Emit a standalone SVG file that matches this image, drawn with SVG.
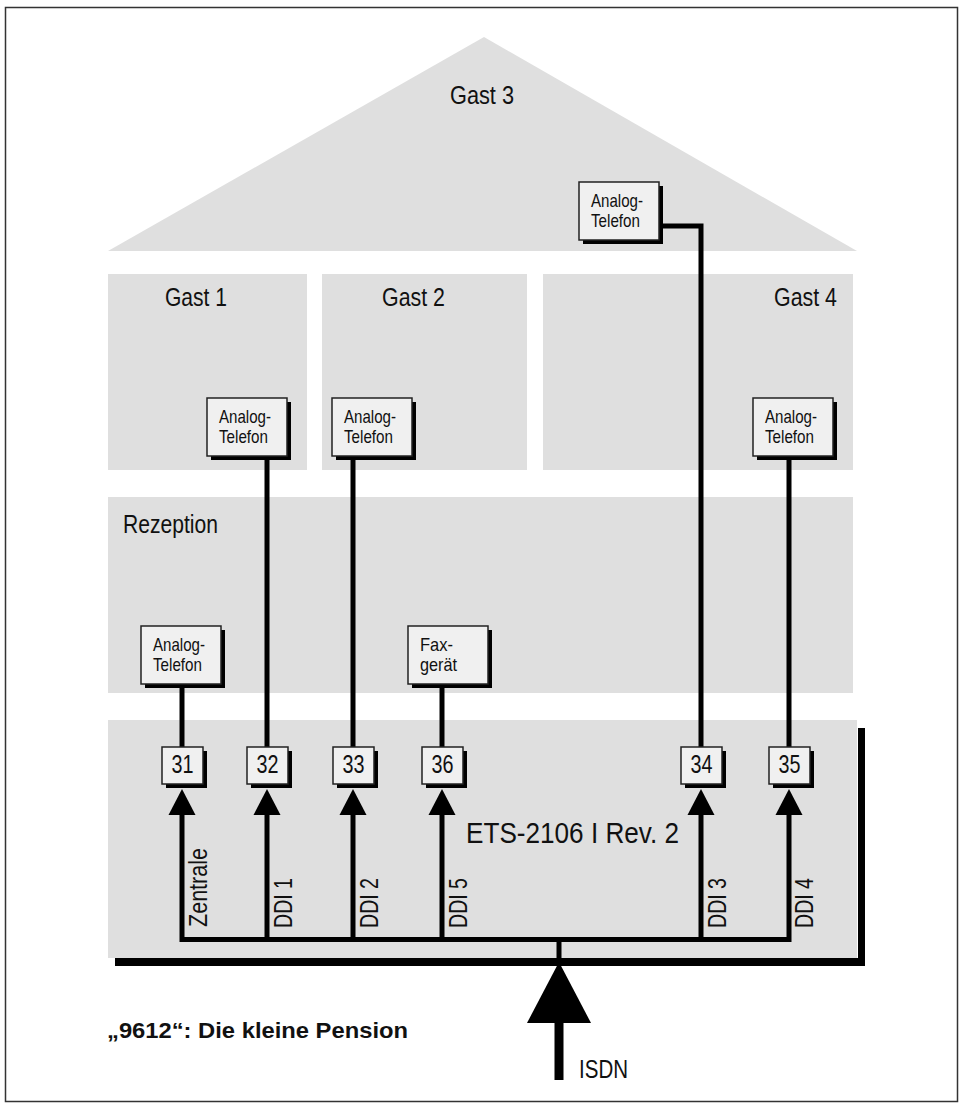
<svg xmlns="http://www.w3.org/2000/svg" width="959" height="1103" viewBox="0 0 959 1103">
<style>
.area{fill:#dfdfdf}
.t{font-family:"Liberation Sans",Arial,sans-serif;fill:#111}
.lbl{font-size:25px}
.dev{font-size:19px}
.sh{fill:#000}
.box{fill:#f0f0f0;stroke:#222;stroke-width:1.5}
.wire{fill:none;stroke:#000;stroke-width:5}
</style>
<defs>
<g id="phoneBox">
<rect class="sh" x="4" y="4" width="80" height="58"/>
<rect class="box" x="0" y="0" width="80" height="58"/>
</g>
<g id="portBox">
<rect class="sh" x="4" y="4" width="41" height="37"/>
<rect class="box" x="0" y="0" width="41" height="37"/>
</g>
</defs>
<rect x="0" y="0" width="959" height="1103" fill="#fff"/>
<rect x="5.5" y="7.5" width="952" height="1094" fill="none" stroke="#333" stroke-width="1.5"/>

<g id="roof">
<polygon class="area" points="108,251 484,37 857,251"/>
<text class="t lbl" x="450" y="104" textLength="64" lengthAdjust="spacingAndGlyphs">Gast 3</text>
</g>
<g id="gast1">
<rect class="area" x="108" y="274" width="199" height="196"/>
<text class="t lbl" x="165" y="306" textLength="62" lengthAdjust="spacingAndGlyphs">Gast 1</text>
</g>
<g id="gast2">
<rect class="area" x="322" y="274" width="205" height="196"/>
<text class="t lbl" x="382" y="306" textLength="63" lengthAdjust="spacingAndGlyphs">Gast 2</text>
</g>
<g id="gast4">
<rect class="area" x="543" y="274" width="310" height="196"/>
<text class="t lbl" x="774" y="306" textLength="63" lengthAdjust="spacingAndGlyphs">Gast 4</text>
</g>
<g id="rezeption">
<rect class="area" x="108" y="497" width="745" height="196"/>
<text class="t lbl" x="123" y="533" textLength="95" lengthAdjust="spacingAndGlyphs">Rezeption</text>
</g>
<g id="ets">
<rect class="area" x="108" y="720" width="749" height="238"/>
<rect x="115" y="958" width="750" height="8" fill="#000"/>
<rect x="858" y="728" width="7" height="238" fill="#000"/>
<text class="t" x="466" y="843" font-size="29" textLength="213" lengthAdjust="spacingAndGlyphs">ETS-2106 I Rev. 2</text>
</g>

<g id="connectors">
<polyline class="wire" points="659,226 701,226 701,747"/>
<line class="wire" x1="267" y1="456" x2="267" y2="747"/>
<line class="wire" x1="353" y1="456" x2="353" y2="747"/>
<line class="wire" x1="789" y1="456" x2="789" y2="747"/>
<line class="wire" x1="182" y1="683" x2="182" y2="747"/>
<line class="wire" x1="442" y1="683" x2="442" y2="747"/>
<polyline class="wire" points="182,812 182,939.5 789,939.5 789,812"/>
<line class="wire" x1="267" y1="812" x2="267" y2="939.5"/>
<line class="wire" x1="353" y1="812" x2="353" y2="939.5"/>
<line class="wire" x1="442" y1="812" x2="442" y2="939.5"/>
<line class="wire" x1="701" y1="812" x2="701" y2="939.5"/>
<line class="wire" x1="559" y1="939" x2="559" y2="960"/>
<g fill="#000">
<polygon points="182,789 168.5,815 195.5,815"/>
<polygon points="267,789 253.5,815 280.5,815"/>
<polygon points="353,789 339.5,815 366.5,815"/>
<polygon points="442,789 428.5,815 455.5,815"/>
<polygon points="701,789 687.5,815 714.5,815"/>
<polygon points="789,789 775.5,815 802.5,815"/>
<polygon points="559,962 527,1023 591,1023"/>
<rect x="554.5" y="1020" width="9" height="60"/>
</g>
<g class="t lbl">
<text transform="translate(207,927) rotate(-90)" textLength="79" lengthAdjust="spacingAndGlyphs">Zentrale</text>
<text transform="translate(292,928) rotate(-90)" textLength="50" lengthAdjust="spacingAndGlyphs">DDI 1</text>
<text transform="translate(378,928) rotate(-90)" textLength="50" lengthAdjust="spacingAndGlyphs">DDI 2</text>
<text transform="translate(467,928) rotate(-90)" textLength="50" lengthAdjust="spacingAndGlyphs">DDI 5</text>
<text transform="translate(726,928) rotate(-90)" textLength="50" lengthAdjust="spacingAndGlyphs">DDI 3</text>
<text transform="translate(813,928) rotate(-90)" textLength="50" lengthAdjust="spacingAndGlyphs">DDI 4</text>
<text x="579" y="1078" textLength="49" lengthAdjust="spacingAndGlyphs">ISDN</text>
</g>
</g>

<g id="phone-gast3">
<use href="#phoneBox" x="579" y="182"/>
<text class="t dev" x="591" y="207" textLength="52" lengthAdjust="spacingAndGlyphs">Analog-</text>
<text class="t dev" x="591" y="227" textLength="49" lengthAdjust="spacingAndGlyphs">Telefon</text>
</g>
<g id="phone-gast1">
<use href="#phoneBox" x="207" y="398"/>
<text class="t dev" x="219" y="423" textLength="52" lengthAdjust="spacingAndGlyphs">Analog-</text>
<text class="t dev" x="219" y="443" textLength="49" lengthAdjust="spacingAndGlyphs">Telefon</text>
</g>
<g id="phone-gast2">
<use href="#phoneBox" x="332" y="398"/>
<text class="t dev" x="344" y="423" textLength="52" lengthAdjust="spacingAndGlyphs">Analog-</text>
<text class="t dev" x="344" y="443" textLength="49" lengthAdjust="spacingAndGlyphs">Telefon</text>
</g>
<g id="phone-gast4">
<use href="#phoneBox" x="753" y="398"/>
<text class="t dev" x="765" y="423" textLength="52" lengthAdjust="spacingAndGlyphs">Analog-</text>
<text class="t dev" x="765" y="443" textLength="49" lengthAdjust="spacingAndGlyphs">Telefon</text>
</g>
<g id="phone-rezeption">
<use href="#phoneBox" x="141" y="626"/>
<text class="t dev" x="153" y="651" textLength="52" lengthAdjust="spacingAndGlyphs">Analog-</text>
<text class="t dev" x="153" y="671" textLength="49" lengthAdjust="spacingAndGlyphs">Telefon</text>
</g>
<g id="fax">
<use href="#phoneBox" x="408" y="626"/>
<text class="t dev" x="420" y="651" textLength="33" lengthAdjust="spacingAndGlyphs">Fax-</text>
<text class="t dev" x="420" y="671" textLength="37" lengthAdjust="spacingAndGlyphs">gerät</text>
</g>

<g id="port31"><use href="#portBox" x="162" y="747"/><text class="t lbl" x="182.5" y="773" text-anchor="middle" textLength="22" lengthAdjust="spacingAndGlyphs">31</text></g>
<g id="port32"><use href="#portBox" x="247" y="747"/><text class="t lbl" x="267.5" y="773" text-anchor="middle" textLength="22" lengthAdjust="spacingAndGlyphs">32</text></g>
<g id="port33"><use href="#portBox" x="333" y="747"/><text class="t lbl" x="353.5" y="773" text-anchor="middle" textLength="22" lengthAdjust="spacingAndGlyphs">33</text></g>
<g id="port36"><use href="#portBox" x="422" y="747"/><text class="t lbl" x="442.5" y="773" text-anchor="middle" textLength="22" lengthAdjust="spacingAndGlyphs">36</text></g>
<g id="port34"><use href="#portBox" x="681" y="747"/><text class="t lbl" x="701.5" y="773" text-anchor="middle" textLength="22" lengthAdjust="spacingAndGlyphs">34</text></g>
<g id="port35"><use href="#portBox" x="769" y="747"/><text class="t lbl" x="789.5" y="773" text-anchor="middle" textLength="22" lengthAdjust="spacingAndGlyphs">35</text></g>

<g id="title">
<text class="t" x="107" y="1038" font-size="22" font-weight="bold" textLength="301" lengthAdjust="spacingAndGlyphs">„9612“: Die kleine Pension</text>
</g>
</svg>
